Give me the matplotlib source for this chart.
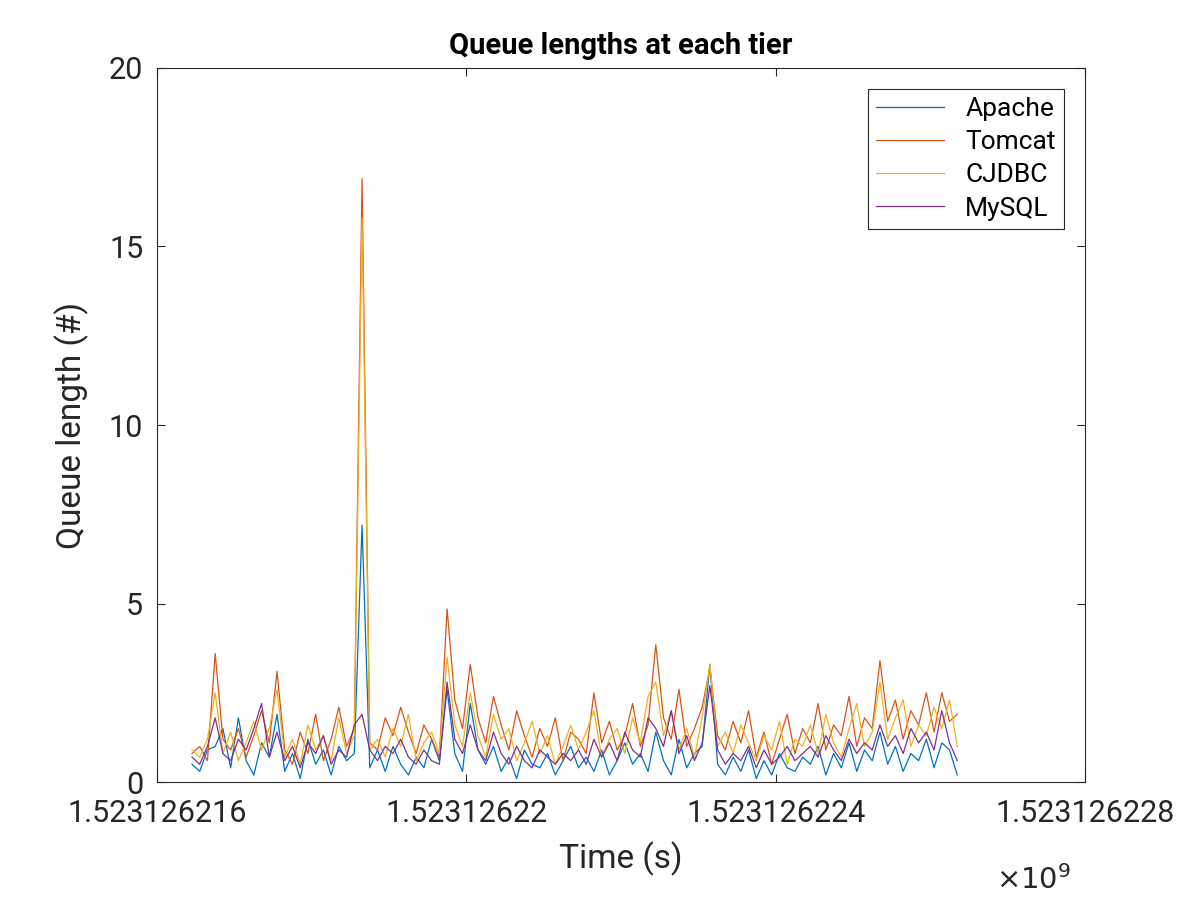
import matplotlib
matplotlib.use("Agg")
import matplotlib.pyplot as plt
import numpy as np

t0 = 1523126216.45
dt = 0.1
tomcat = [0.8,1.0,0.6,3.6,1.2,0.9,1.5,0.7,1.3,2.0,
1.1,3.1,0.9,0.5,1.4,0.8,1.9,0.6,1.2,2.1,
1.0,1.5,16.9,1.1,0.9,1.8,1.3,2.1,1.4,0.8,
1.6,1.2,0.7,4.85,2.3,1.5,3.3,1.8,1.1,2.4,
1.6,0.9,2.0,1.3,0.7,1.5,1.0,1.8,0.6,1.4,
1.2,0.8,2.5,1.1,1.7,0.9,1.3,2.2,1.0,1.6,
3.85,1.8,1.2,2.6,1.0,1.5,2.1,3.2,1.3,0.9,
1.7,1.1,2.0,0.7,1.4,0.5,1.2,1.9,0.8,1.5,
1.1,2.2,0.9,1.6,1.3,2.4,1.0,1.8,1.5,3.4,
1.7,2.3,1.2,2.0,1.6,2.5,1.4,2.5,1.7,1.9]
cjdbc = [0.9,0.7,1.2,2.5,0.8,1.4,0.6,1.1,1.7,0.9,
1.5,2.6,0.7,1.2,0.5,1.6,0.9,1.3,0.6,1.8,
0.8,1.3,15.8,0.9,1.2,0.7,1.5,1.0,1.9,0.6,
1.1,1.4,0.8,3.5,1.6,1.0,2.5,1.3,0.7,1.9,
1.2,1.5,0.6,1.1,1.7,0.8,1.3,0.5,1.0,1.6,
0.9,1.4,2.0,0.7,1.2,1.5,0.8,1.8,1.1,2.4,
2.8,1.3,2.0,0.9,1.5,0.7,1.8,3.3,1.0,1.4,
0.8,1.6,1.1,0.6,1.3,0.9,1.7,0.5,1.2,1.0,
1.6,0.8,1.9,1.1,0.7,1.5,2.2,1.0,1.4,2.8,
1.2,1.8,2.3,1.0,1.6,1.3,2.1,1.5,2.3,1.0]
apache = [0.5,0.3,0.9,1.0,1.5,0.4,1.8,0.6,0.2,1.1,
0.7,1.9,0.3,0.8,0.1,1.2,0.5,0.9,0.2,1.0,
0.6,0.8,7.2,0.4,0.9,0.3,1.0,0.5,0.2,0.7,
0.4,1.2,0.6,2.6,0.8,0.3,2.2,0.9,0.5,1.0,
0.3,0.7,0.1,0.9,0.5,0.4,0.8,0.2,0.6,1.0,
0.4,0.7,0.3,0.9,0.2,0.6,1.1,0.5,0.8,0.3,
1.4,0.6,0.2,1.2,0.4,0.8,1.0,3.3,0.5,0.2,
0.7,0.3,0.9,0.1,0.6,0.2,0.8,0.4,0.3,0.7,
0.5,1.0,0.2,0.8,0.4,1.1,0.3,0.9,0.6,1.4,
0.5,1.0,0.3,0.8,0.6,1.2,0.4,1.1,0.9,0.2]
mysql = [0.7,0.5,1.0,1.8,0.8,0.6,1.2,0.9,1.5,2.2,
0.7,1.4,0.6,1.0,0.4,1.1,0.8,1.3,0.5,0.9,
0.7,1.6,1.9,0.9,0.6,1.0,0.8,1.2,0.7,0.5,
0.9,0.6,0.5,2.8,1.2,0.8,1.6,0.9,0.6,1.4,
0.8,0.5,1.0,0.6,0.4,0.9,0.7,0.5,0.8,0.6,
0.9,0.5,1.2,0.7,1.1,0.6,1.4,0.9,0.7,1.8,
1.5,1.0,2.0,0.8,1.3,0.6,1.1,2.7,0.9,0.5,
0.8,0.6,1.0,0.4,0.9,0.5,0.7,1.0,0.6,0.8,
1.0,0.7,1.3,0.9,0.6,1.2,0.8,1.1,0.9,1.6,
1.0,1.3,0.8,1.5,1.1,1.4,0.9,2.0,1.1,0.6]
names = ["Apache", "Tomcat", "CJDBC", "MySQL"]
colors = ["#0072BD", "#D95319", "#EDB120", "#7E2F8E"]
xticks = [1523126216, 1523126220, 1523126224, 1523126228]
xticklabels = ["1.523126216", "1.52312622", "1.523126224", "1.523126228"]

t = t0 + dt * np.arange(len(apache))
plt.rcParams['font.family'] = ['Roboto', 'DejaVu Sans']
fig = plt.figure(figsize=(12, 9), dpi=100)
ax = fig.add_axes([0.131, 0.131, 0.773, 0.7935])
for s, n, c in zip([apache, tomcat, cjdbc, mysql], names, colors):
    ax.plot(t, s, color=c, lw=0.9, label=n)
ax.set_xlim(1523126216, 1523126228)
ax.set_ylim(0, 20)
ax.set_xticks(xticks)
ax.set_xticklabels(xticklabels)
ax.set_yticks([0, 5, 10, 15, 20])
ax.tick_params(direction='in', top=True, right=True, labelsize=22, length=6, color='#262626', labelcolor='#262626')
ax.tick_params(axis='x', pad=12)
ax.tick_params(axis='y', pad=10)
for sp in ax.spines.values():
    sp.set_color('#262626'); sp.set_linewidth(0.8)
ax.set_xlabel("Time (s)", fontsize=24, color='#262626', labelpad=10)
ax.set_ylabel("Queue length (#)", fontsize=24, color='#262626', labelpad=14)
ax.set_title("Queue lengths at each tier", fontsize=21, fontweight='bold', pad=10)
fig.text(0.83, 0.012, r"$\times10^9$", fontsize=21, color='#262626')
leg = ax.legend(loc='upper right', fontsize=19, fancybox=False, edgecolor='#262626', framealpha=1, handlelength=2.6, borderaxespad=0.8, labelspacing=0.35, borderpad=0.3)
leg.get_frame().set_linewidth(0.8)
fig.savefig("out.png")
